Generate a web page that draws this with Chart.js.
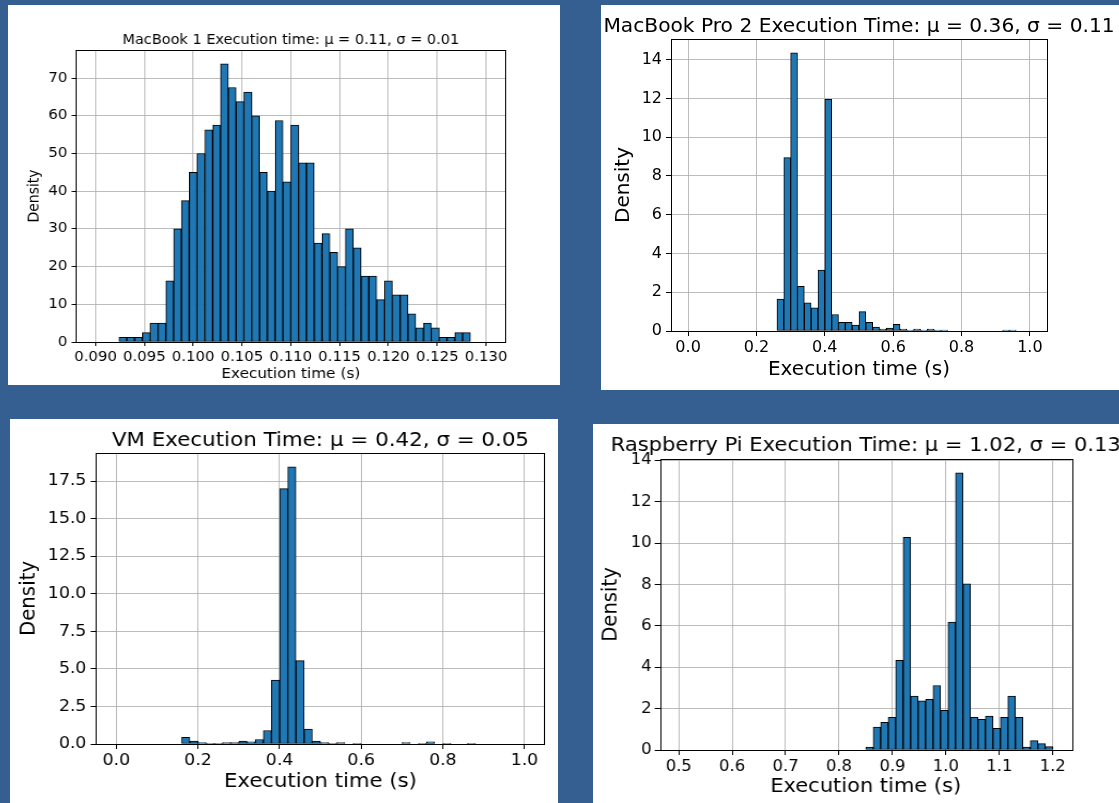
<!DOCTYPE html>
<html>
<head>
<meta charset="utf-8">
<script src="https://cdn.jsdelivr.net/npm/chart.js@4.4.1/dist/chart.umd.min.js"></script>
<style>
  body { margin: 0; width: 1119px; height: 803px; overflow: hidden; position: relative; background: #365f91; }
  .panel { position: absolute; background: #fff; overflow: hidden; }
  .panel canvas { display: block; transform-origin: 0 0; }
</style>
</head>
<body>
<div class="panel" id="p-mb1" style="left:8px;top:5px;width:552px;height:380px"><canvas id="mb1"></canvas></div>
<div class="panel" id="p-mbp2" style="left:601px;top:5px;width:518px;height:385px"><canvas id="mbp2"></canvas></div>
<div class="panel" id="p-vm" style="left:10px;top:419px;width:548px;height:384px"><canvas id="vm"></canvas></div>
<div class="panel" id="p-pi" style="left:593px;top:424px;width:526px;height:379px"><canvas id="pi"></canvas></div>
<script>
// MacBook 1: 50 bins starting at 0.090, width 0.0008
const mb1BinStart = 0.090;
const mb1BinWidth = 0.0008;
const mb1Density = [0, 0, 0, 1.25, 1.25, 1.25, 2.5, 5, 5, 16.25,
    30, 37.5, 45, 50, 56.25, 57.5, 73.75, 67.5, 63.75, 66.25,
    60, 45, 40, 58.75, 42.5, 57.5, 47.5, 47.5, 26.25, 28.75,
    23.75, 20, 30, 25, 17.5, 17.5, 11.25, 16.25, 12.5, 12.5,
    7.5, 3.75, 5, 3.75, 1.25, 1.25, 2.5, 2.5, 0, 0];
const mb1XTicks = [0.090, 0.095, 0.100, 0.105, 0.110, 0.115, 0.120, 0.125, 0.130];
const mb1XLabels = ['0.090', '0.095', '0.100', '0.105', '0.110', '0.115', '0.120', '0.125', '0.130'];
const mb1YTicks = [0, 10, 20, 30, 40, 50, 60, 70];
const mb1YLabels = ['0', '10', '20', '30', '40', '50', '60', '70'];

// MacBook Pro 2: 50 bins starting at 0, width 0.02
const mbp2BinStart = 0;
const mbp2BinWidth = 0.02;
const mbp2Density = [0, 0, 0, 0, 0, 0, 0, 0, 0, 0,
    0, 0, 0, 1.65, 8.95, 14.35, 2.3, 1.45, 1.2, 3.15,
    11.95, 0.85, 0.45, 0.45, 0.3, 1.0, 0.45, 0.2, 0.1, 0.15,
    0.35, 0.1, 0.05, 0.1, 0.05, 0.1, 0.05, 0.05, 0, 0,
    0, 0, 0, 0, 0, 0, 0.05, 0.05, 0, 0];
const mbp2XTicks = [0, 0.2, 0.4, 0.6, 0.8, 1.0];
const mbp2XLabels = ['0.0', '0.2', '0.4', '0.6', '0.8', '1.0'];
const mbp2YTicks = [0, 2, 4, 6, 8, 10, 12, 14];
const mbp2YLabels = ['0', '2', '4', '6', '8', '10', '12', '14'];

// VM: 50 bins starting at 0, width 0.02
const vmBinStart = 0;
const vmBinWidth = 0.02;
const vmDensity = [0, 0, 0, 0, 0, 0, 0, 0, 0.45, 0.2,
    0.1, 0.05, 0.05, 0.1, 0.1, 0.2, 0.15, 0.3, 0.9, 4.25,
    17.0, 18.45, 5.55, 1.0, 0.2, 0.1, 0.05, 0.1, 0, 0.05,
    0, 0, 0, 0, 0, 0.1, 0, 0.05, 0.15, 0,
    0.05, 0, 0, 0.05, 0, 0, 0, 0, 0, 0];
const vmXTicks = [0, 0.2, 0.4, 0.6, 0.8, 1.0];
const vmXLabels = ['0.0', '0.2', '0.4', '0.6', '0.8', '1.0'];
const vmYTicks = [0, 2.5, 5, 7.5, 10, 12.5, 15, 17.5];
const vmYLabels = ['0.0', '2.5', '5.0', '7.5', '10.0', '12.5', '15.0', '17.5'];

// Raspberry Pi: 50 bins starting at 0.5, width 0.014
const piBinStart = 0.5;
const piBinWidth = 0.014;
const piDensity = [0, 0, 0, 0, 0, 0, 0, 0, 0, 0,
    0, 0, 0, 0, 0, 0, 0, 0, 0, 0,
    0, 0, 0, 0, 0, 0.14, 1.11, 1.34, 1.58, 4.33,
    10.28, 2.61, 2.38, 2.45, 3.12, 1.92, 6.18, 13.4, 8.03, 1.58,
    1.48, 1.64, 1.05, 1.58, 2.61, 1.58, 0.14, 0.45, 0.31, 0.16];
const piXTicks = [0.5, 0.6, 0.7, 0.8, 0.9, 1.0, 1.1, 1.2];
const piXLabels = ['0.5', '0.6', '0.7', '0.8', '0.9', '1.0', '1.1', '1.2'];
const piYTicks = [0, 2, 4, 6, 8, 10, 12, 14];
const piYLabels = ['0', '2', '4', '6', '8', '10', '12', '14'];

const FONT = 'DejaVu Sans';

// title drawn centred over the plot area, like matplotlib
const panelTitle = {
    id: 'panelTitle',
    afterDraw(chart, args, opts) {
        const ctx = chart.ctx;
        const a = chart.chartArea;
        ctx.save();
        ctx.font = opts.size + 'px "' + FONT + '"';
        ctx.fillStyle = '#000';
        ctx.textAlign = 'center';
        ctx.textBaseline = 'alphabetic';
        ctx.fillText(opts.text, (a.left + a.right) / 2, opts.baseline);
        ctx.restore();
    }
};

// black box round the axes
const axesFrame = {
    id: 'axesFrame',
    afterDraw(chart) {
        const ctx = chart.ctx;
        const a = chart.chartArea;
        ctx.save();
        ctx.strokeStyle = '#000';
        ctx.lineWidth = 1;
        ctx.strokeRect(Math.round(a.left) + 0.5, Math.round(a.top) + 0.5,
            Math.round(a.right - a.left), Math.round(a.bottom - a.top));
        ctx.restore();
    }
};

// each pasted panel in the reference is a little stretched sideways (sx)
function makeHist(id, c) {
    const canvas = document.getElementById(id);
    const box = canvas.parentElement;
    canvas.width = Math.round(box.clientWidth / c.sx);
    canvas.height = box.clientHeight;
    canvas.style.width = canvas.width + 'px';
    canvas.style.height = canvas.height + 'px';
    canvas.style.transform = 'scaleX(' + c.sx + ')';

    const points = c.density.map((d, i) => ({ x: c.binStart + c.binWidth * (i + 0.5), y: d }));
    new Chart(canvas, {
        type: 'bar',
        data: {
            datasets: [{
                data: points,
                backgroundColor: '#1f77b4',
                borderColor: '#000',
                borderWidth: 1,
                borderSkipped: false,
                barPercentage: 1,
                categoryPercentage: 1
            }]
        },
        options: {
            responsive: false,
            animation: false,
            events: [],
            layout: { padding: { top: c.top, right: c.right / c.sx, left: 0, bottom: 0 } },
            plugins: {
                legend: { display: false },
                tooltip: { enabled: false },
                panelTitle: { text: c.title, size: c.titleSize, baseline: c.titleBase }
            },
            scales: {
                x: {
                    type: 'linear',
                    bounds: 'data',
                    min: c.xMin,
                    max: c.xMax,
                    offset: false,
                    z: 1,
                    afterBuildTicks: s => { s.ticks = c.xTicks.map(v => ({ value: v })); },
                    afterFit: s => { s.height = c.xAxisH; },
                    ticks: {
                        autoSkip: false,
                        maxRotation: 0,
                        color: '#000',
                        padding: c.xTickPad,
                        font: { family: FONT, size: c.tickSize },
                        callback: (v, i) => c.xLabels[i]
                    },
                    grid: { offset: false, color: 'rgba(176,176,176,0.85)', lineWidth: 1, tickColor: '#000', tickLength: c.tickLen },
                    border: { display: false },
                    title: {
                        display: true, text: 'Execution time (s)', color: '#000',
                        font: { family: FONT, size: c.labelSize },
                        padding: { top: 0, bottom: c.xTitlePad }
                    }
                },
                y: {
                    type: 'linear',
                    bounds: 'data',
                    min: 0,
                    max: c.yMax,
                    z: 1,
                    afterBuildTicks: s => { s.ticks = c.yTicks.map(v => ({ value: v })); },
                    afterFit: s => { s.width = c.left / c.sx; },
                    ticks: {
                        autoSkip: false,
                        color: '#000',
                        padding: c.yTickPad,
                        font: { family: FONT, size: c.tickSize },
                        callback: (v, i) => c.yLabels[i]
                    },
                    grid: { color: 'rgba(176,176,176,0.85)', lineWidth: 1, tickColor: '#000', tickLength: c.tickLen },
                    border: { display: false },
                    title: {
                        display: true, text: 'Density', color: '#000',
                        font: { family: FONT, size: c.labelSize },
                        padding: { top: c.yTitlePad, bottom: 0 }
                    }
                }
            }
        },
        plugins: [panelTitle, axesFrame]
    });
}

makeHist('mb1', {
    density: mb1Density, binStart: mb1BinStart, binWidth: mb1BinWidth,
    xTicks: mb1XTicks, xLabels: mb1XLabels, yTicks: mb1YTicks, yLabels: mb1YLabels,
    xMin: 0.088, xMax: 0.132, yMax: 77.44, sx: 1.09,
    title: 'MacBook 1 Execution time: μ = 0.11, σ = 0.01', titleSize: 13.3, titleBase: 39,
    tickSize: 13.7, labelSize: 14, tickLen: 4, xTickPad: 3, yTickPad: 4,
    top: 45, right: 54, left: 68, xAxisH: 43, xTitlePad: 2, yTitlePad: 16
});

makeHist('mbp2', {
    density: mbp2Density, binStart: mbp2BinStart, binWidth: mbp2BinWidth,
    xTicks: mbp2XTicks, xLabels: mbp2XLabels, yTicks: mbp2YTicks, yLabels: mbp2YLabels,
    xMin: -0.05, xMax: 1.05, yMax: 15.07, sx: 1,
    title: 'MacBook Pro 2 Execution Time: μ = 0.36, σ = 0.11', titleSize: 20.2, titleBase: 27,
    tickSize: 16, labelSize: 20, tickLen: 5, xTickPad: 2, yTickPad: 4,
    top: 34, right: 72, left: 70, xAxisH: 59, xTitlePad: 8, yTitlePad: 11
});

makeHist('vm', {
    density: vmDensity, binStart: vmBinStart, binWidth: vmBinWidth,
    xTicks: vmXTicks, xLabels: vmXLabels, yTicks: vmYTicks, yLabels: vmYLabels,
    xMin: -0.05, xMax: 1.05, yMax: 19.37, sx: 1.07,
    title: 'VM Execution Time: μ = 0.42, σ = 0.05', titleSize: 20, titleBase: 27,
    tickSize: 16.2, labelSize: 19.8, tickLen: 5, xTickPad: 2, yTickPad: 4,
    top: 34, right: 13, left: 86, xAxisH: 59, xTitlePad: 9, yTitlePad: 6
});

makeHist('pi', {
    density: piDensity, binStart: piBinStart, binWidth: piBinWidth,
    xTicks: piXTicks, xLabels: piXLabels, yTicks: piYTicks, yLabels: piYLabels,
    xMin: 0.465, xMax: 1.235, yMax: 14.07, sx: 1.07,
    title: 'Raspberry Pi Execution Time: μ = 1.02, σ = 0.13', titleSize: 19.7, titleBase: 27,
    tickSize: 15.3, labelSize: 19.6, tickLen: 5, xTickPad: 3, yTickPad: 3,
    top: 35, right: 48, left: 67, xAxisH: 53, xTitlePad: 4, yTitlePad: 5
});
</script>
</body>
</html>
